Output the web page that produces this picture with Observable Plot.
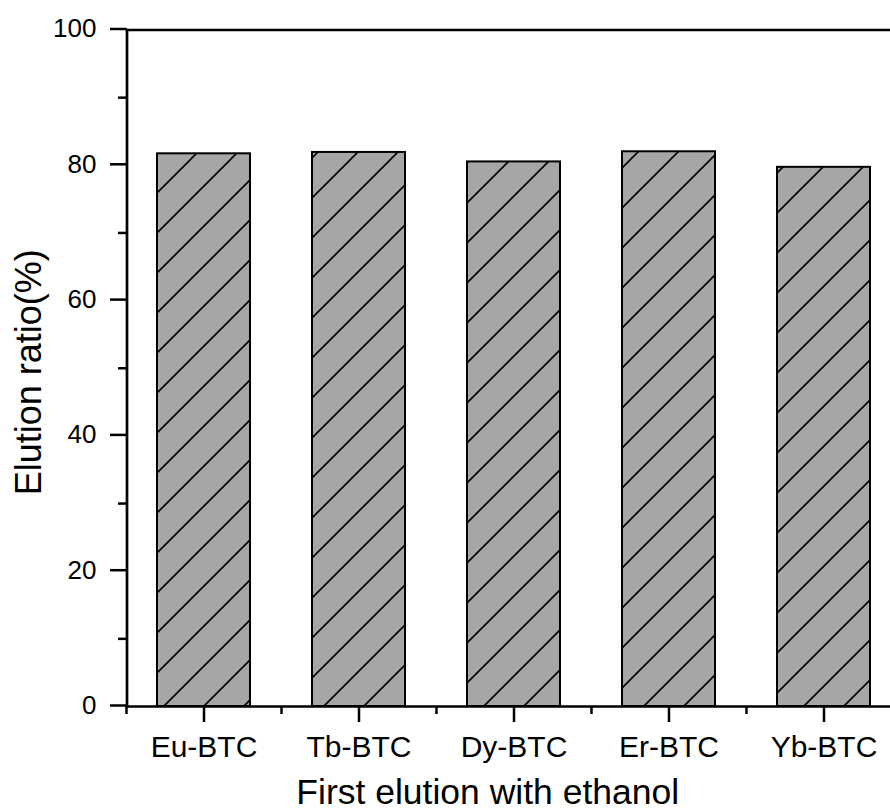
<!DOCTYPE html>
<html>
<head>
<meta charset="utf-8">
<script src="https://cdn.jsdelivr.net/npm/d3@7"></script>
<script src="https://cdn.jsdelivr.net/npm/@observablehq/plot@0.6"></script>
<style>
  html, body { margin: 0; padding: 0; background: #fff; }
  #chart svg { display: block; }
</style>
</head>
<body>
<div id="chart"></div>
<script>
// Data
const categories = ["Eu-BTC", "Tb-BTC", "Dy-BTC", "Er-BTC", "Yb-BTC"];
const values = [81.7, 81.9, 80.5, 82.0, 79.7];
const yTicks = [0, 20, 40, 60, 80, 100];
const yMinorTicks = [10, 30, 50, 70, 90];
const xTitle = "First elution with ethanol";
const yTitle = "Elution ratio(%)";

const data = categories.map((c, i) => ({name: c, value: values[i]}));

const W = 890, H = 811;
const mL = 126.5, mT = 29.5, mB = 105;
const step = 155;

const chart = Plot.plot({
  width: W,
  height: H,
  marginLeft: mL,
  marginRight: 0,
  marginTop: mT,
  marginBottom: mB,
  style: {fontFamily: "Arial, 'Liberation Sans', sans-serif", background: "white", color: "black", overflow: "visible"},
  x: {domain: categories, range: [126, 126 + step * categories.length], paddingInner: 0.4, paddingOuter: 0.2, label: null},
  y: {domain: [0, 100], range: [H - mB, mT], label: null},
  marks: [
    Plot.barY(data, {x: "name", y: "value", fill: "url(#hatch)", stroke: "black", strokeWidth: 2}),
    Plot.frame({anchor: "top", strokeWidth: 2.5}),
    Plot.frame({anchor: "left", strokeWidth: 2.7}),
    Plot.frame({anchor: "bottom", strokeWidth: 2.5}),
    Plot.axisY({ticks: yTicks, tickSize: 16.5, tickPadding: 14, fontSize: 26, strokeWidth: 2.5, label: null, dy: -1}),
    Plot.axisY({ticks: yMinorTicks, tickSize: 8.5, tickFormat: () => "", strokeWidth: 2.5, label: null}),
    Plot.axisX({tickSize: 16, tickPadding: 13.4, fontSize: 30, strokeWidth: 2.5, label: null}),
    Plot.axisX({tickSize: 8, tickFormat: () => "", strokeWidth: 2.5, label: null, dx: -step / 2}),
    Plot.text([yTitle], {frameAnchor: "left", textAnchor: "middle", rotate: -90, lineAnchor: "bottom", dx: -86, dy: 4, fontSize: 36, fill: "black"}),
    Plot.text([xTitle], {frameAnchor: "bottom", textAnchor: "middle", lineAnchor: "bottom", dy: 97, dx: -21, fontSize: 35.5, fill: "black"})
  ]
});

// hatch pattern definition
const ns = "http://www.w3.org/2000/svg";
const defs = document.createElementNS(ns, "defs");
defs.innerHTML = `
  <pattern id="hatch" patternUnits="userSpaceOnUse" x="30" y="0" width="40" height="40">
    <rect x="0" y="0" width="40" height="40" fill="#a6a6a6"></rect>
    <path d="M-10,10 L10,-10 M0,40 L40,0 M30,50 L50,30" stroke="black" stroke-width="1.6" fill="none"></path>
  </pattern>`;
chart.insertBefore(defs, chart.firstChild);

document.getElementById("chart").appendChild(chart);
</script>
</body>
</html>
